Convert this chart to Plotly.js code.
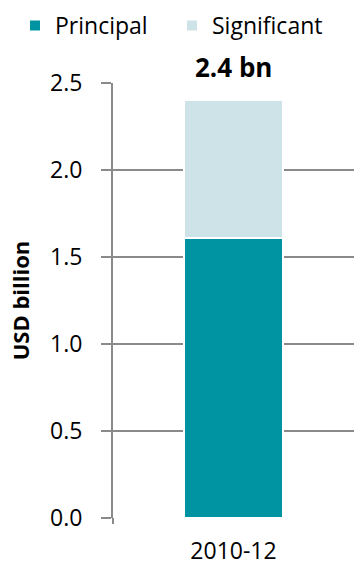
<!DOCTYPE html>
<html>
<head>
<meta charset="utf-8">
<script src="https://cdn.plot.ly/plotly-3.0.1.min.js"></script>
<style>html,body{margin:0;padding:0;background:#fff;}#chart{width:354px;height:566px;}</style>
</head>
<body>
<div id="chart"></div>
<script>
const categories = ['2010-12'];
const principal = [1.61];
const significant = [0.79];
const seriesNames = ['Principal', 'Significant'];
const yTicks = [0, 0.5, 1.0, 1.5, 2.0, 2.5];
const yTickLabels = ['0.0', '0.5', '1.0', '1.5', '2.0', '2.5'];

const totals = categories.map((c, i) => principal[i] + significant[i]);
const FONT = '"Open Sans", sans-serif';
const GRID = '#8a8a8a';

const traces = [
  {type: 'bar', name: seriesNames[0], x: categories, y: principal, legend: 'legend',
   marker: {color: '#0094A3', line: {color: '#ffffff', width: 2}}, width: 0.41, hoverinfo: 'none'},
  {type: 'bar', name: seriesNames[1], x: categories, y: significant, legend: 'legend2',
   marker: {color: '#CEE3E7', line: {color: '#ffffff', width: 2}}, width: 0.41, hoverinfo: 'none'}
];

const legendBase = {orientation: 'h', xref: 'container', yref: 'container', yanchor: 'top',
                    xanchor: 'left', font: {size: 23, family: FONT}, bgcolor: 'rgba(0,0,0,0)'};

const layout = {
  width: 354, height: 566,
  margin: {l: 113, r: 0, t: 83, b: 48, pad: 0},
  barmode: 'stack',
  paper_bgcolor: '#fff', plot_bgcolor: '#fff',
  font: {family: FONT, size: 24, color: '#000'},
  showlegend: true,
  legend: Object.assign({}, legendBase, {x: 15/354, y: 1 - 4/566}),
  legend2: Object.assign({}, legendBase, {x: 172/354, y: 1 - 4/566}),
  xaxis: {type: 'category', showgrid: false, zeroline: false, showline: false,
          ticks: '', tickfont: {size: 23}, ticklabelstandoff: 17, fixedrange: true},
  yaxis: {range: [0, 2.5], tickvals: yTicks, ticktext: yTickLabels, showgrid: true,
          gridcolor: GRID, gridwidth: 2, zeroline: false, showline: true,
          linecolor: GRID, linewidth: 2, ticks: 'outside', ticklen: 10,
          tickcolor: GRID, tickwidth: 2, tickfont: {size: 23}, ticklabelstandoff: 14,
          title: {text: '<b>USD billion</b>', font: {size: 22}, standoff: 14}, fixedrange: true},
  annotations: categories.map((c, i) => ({
    x: c, y: totals[i], xref: 'x', yref: 'y', text: '<b>' + totals[i].toFixed(1) + ' bn</b>',
    showarrow: false, yanchor: 'bottom', yshift: 13, font: {size: 26, family: FONT}
  })),
  shapes: [{type: 'line', xref: 'paper', yref: 'paper', x0: 0, x1: 0, y0: 0, y1: -6/435,
            line: {color: GRID, width: 2}}]
};

Plotly.newPlot('chart', traces, layout, {displayModeBar: false, staticPlot: true});
</script>
</body>
</html>
